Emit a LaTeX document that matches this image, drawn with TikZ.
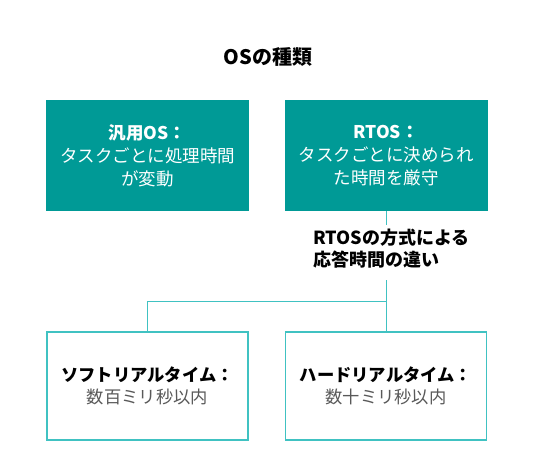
\documentclass[tikz,border=0pt]{standalone}
\usepackage{fontspec}
\newfontfamily\jp{Noto Sans CJK JP}
\newfontfamily\jplight{Noto Sans CJK JP Light}
\definecolor{tealfill}{HTML}{009A96}
\definecolor{tealline}{HTML}{40C2C2}
\begin{document}
\begin{tikzpicture}[x=1pt,y=-1pt,
  topbox/.style={draw=none,fill=tealfill,minimum width=203pt,minimum height=111pt,inner sep=0pt,align=center,text=white,font=\jp\fontsize{17.5}{23}\selectfont},
  botbox/.style={draw=tealline,line width=1.5pt,fill=white,minimum width=201pt,minimum height=108pt,inner sep=0pt,align=center,font=\jp\fontsize{17.3}{22}\selectfont},
  conn/.style={draw=tealline,line width=1pt}]
\useasboundingbox (0,0) rectangle (537,473);
\fill[white] (0,0) rectangle (537,473);
\node[font=\jp\bfseries\fontsize{20}{24}\selectfont] (title) at (268,57) {OSの種類};
\node[topbox] (gen) at (147.5,155.5) {{\bfseries 汎用OS：}\\タスクごとに処理時間\\が変動};
\node[topbox] (rtos) at (386,155.5) {{\bfseries RTOS：}\\タスクごとに決められ\\た時間を厳守};
\node[anchor=north west,align=left,inner sep=0pt,font=\jp\bfseries\fontsize{18}{22}\selectfont] (lab) at (313,229) {RTOSの方式による\\応答時間の違い};
\node[botbox] (soft) at (147.5,386) {{\bfseries ソフトリアルタイム：}\\{\color{black!65}数百ミリ秒以内}};
\node[botbox] (hard) at (386,386) {{\bfseries ハードリアルタイム：}\\{\color{black!65}数十ミリ秒以内}};
\coordinate (c1) at (386,225);
\coordinate (c2) at (386,280);
\coordinate (j) at (386,301);
\draw[conn] (rtos.south) -- (c1);
\draw[conn] (c2) -- (hard.north);
\draw[conn] (j) -| (soft.north);
\end{tikzpicture}
\end{document}
